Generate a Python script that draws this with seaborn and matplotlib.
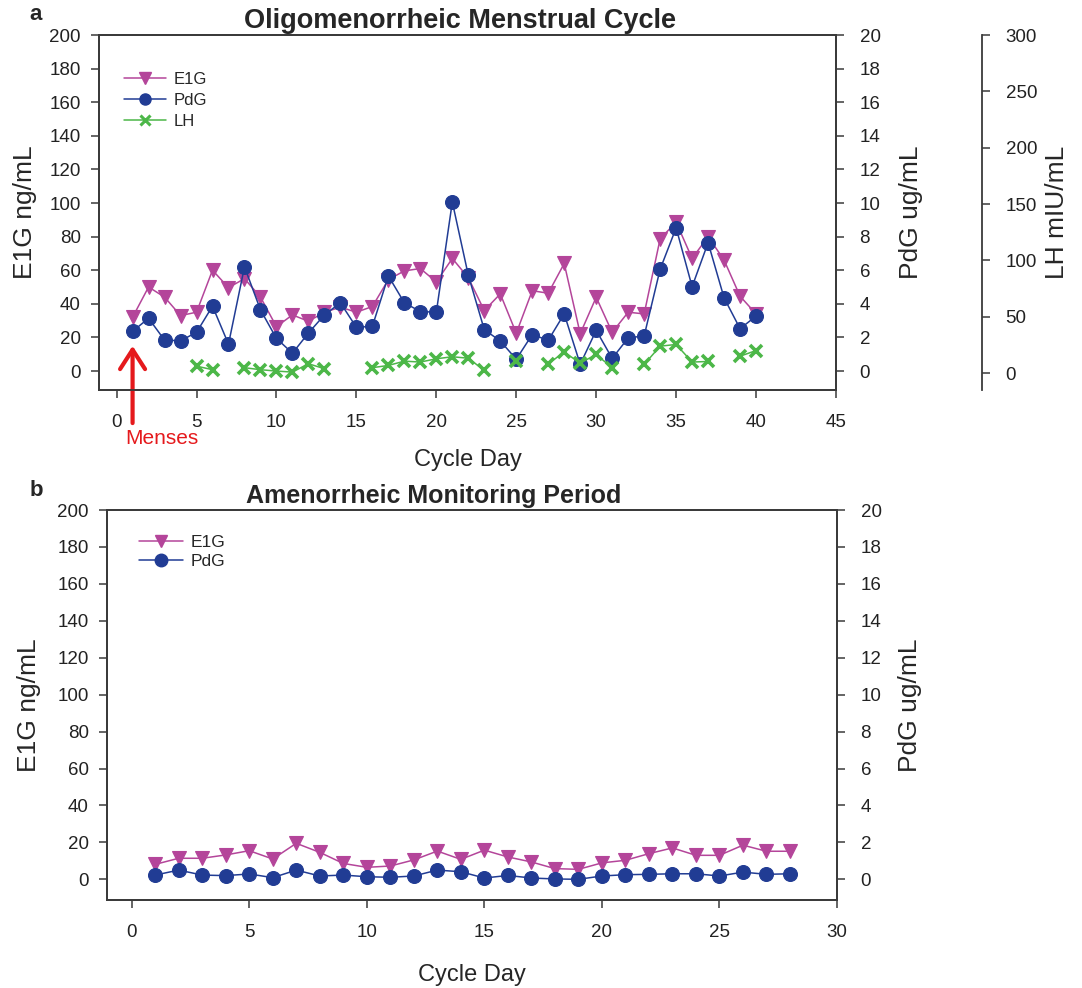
import matplotlib
matplotlib.use("Agg")
import matplotlib.pyplot as plt
from matplotlib.lines import Line2D
import numpy as np
import pandas as pd
import seaborn as sns

# --- data ---
days_a = list(range(1, 41))
e1g_a = [32, 50, 44, 33, 35, 60, 49.6, 55, 44, 26.4, 33.4, 29.6, 35, 38, 35, 38.4, 54.4, 59.6, 61, 53,
         67, 55.5, 36, 45.9, 22.5, 47.8, 46.3, 64, 22.2, 43.9, 23, 35, 34, 78.7, 88.6, 67, 80, 66, 44.5, 34]
pdg_a = [2.36, 3.14, 1.84, 1.80, 2.30, 3.86, 1.60, 6.20, 3.64, 1.94, 1.06, 2.26, 3.34, 4.06, 2.60, 2.66,
         5.66, 4.06, 3.54, 3.50, 10.06, 5.7, 2.46, 1.79, 0.70, 2.17, 1.83, 3.40, 0.40, 2.42, 0.75, 1.97,
         2.09, 6.06, 8.52, 5.02, 7.64, 4.35, 2.52, 3.27]
lh_a = [np.nan, np.nan, np.nan, np.nan, 6.2, 3.0, np.nan, 4.8, 3.0, 1.8, 0.9, 8.3, 3.9, np.nan, np.nan,
        4.8, 6.8, 10.6, 9.8, 12.7, 14.5, 13.2, 2.4, np.nan, 10.6, np.nan, 8.3, 18.6, 8.9, 16.5, 4.7,
        np.nan, 7.7, 23.9, 25.4, 9.8, 10.3, np.nan, 15.0, 20.0]

days_b = list(range(1, 29))
e1g_b = [8.1, 11.4, 11.4, 13.2, 15.5, 11.0, 19.5, 14.6, 8.6, 6.5, 7.2, 10.5, 15.3, 10.8, 15.8, 12.1,
         9.4, 5.8, 5.4, 8.9, 10.3, 13.9, 17.0, 13.0, 13.0, 18.5, 15.2, 15.2]
pdg_b = [0.23, 0.50, 0.23, 0.20, 0.29, 0.09, 0.50, 0.18, 0.23, 0.14, 0.11, 0.18, 0.50, 0.41, 0.07, 0.21,
         0.07, 0.02, 0.0, 0.18, 0.25, 0.27, 0.30, 0.30, 0.18, 0.39, 0.27, 0.30]

c_e1g = "#B4459A"
c_pdg = "#213C94"
c_lh = "#4CB748"
c_axis = "#3a3a3a"

sns.set_theme(style="ticks")
plt.rcParams["font.family"] = ["Liberation Sans", "DejaVu Sans"]
plt.rcParams["axes.edgecolor"] = c_axis
plt.rcParams["axes.linewidth"] = 1.3

df_a = pd.DataFrame({"day": days_a, "e1g": e1g_a, "pdg": pdg_a, "lh": lh_a})
# segment id so that gaps in LH are not joined
df_a["seg"] = df_a["lh"].isna().cumsum()
lh_df = df_a.dropna(subset=["lh"])
df_b = pd.DataFrame({"day": days_b, "e1g": e1g_b, "pdg": pdg_b})

fig = plt.figure(figsize=(10.82, 9.88), dpi=100)


def style_ticks(ax, side):
    ax.tick_params(axis="both", direction="out", length=6, width=1.1, color=c_axis,
                   labelsize=13.5, labelcolor="#222222")
    ax.tick_params(axis="y", pad=11 if side == "right" else 7)
    ax.tick_params(axis="x", pad=11)


def draw_series(ax, df, col, color, marker, ms):
    sns.lineplot(data=df, x="day", y=col, ax=ax, color=color, lw=1.1, marker=marker,
                 markersize=ms, markeredgecolor=color, markeredgewidth=0.8, legend=False)


# ---------------- panel a ----------------
ax = fig.add_axes([99 / 1082, 1 - 390 / 988, 737 / 1082, 355 / 988])
axp = ax.twinx()
axl = ax.twinx()

draw_series(ax, df_a, "e1g", c_e1g, "v", 10)
draw_series(axp, df_a, "pdg", c_pdg, "o", 10)
sns.lineplot(data=lh_df, x="day", y="lh", units="seg", estimator=None, ax=axl, color=c_lh, lw=1.1,
             marker="x", markersize=8.5, markeredgecolor=c_lh, markeredgewidth=2.6, legend=False)

ax.set_xlim(-1.1, 45)
ax.set_ylim(-11.3, 200)
axp.set_ylim(-1.13, 20)
axl.set_ylim(-15, 300)
ax.set_xticks(range(0, 46, 5))
ax.set_yticks(range(0, 201, 20))
axp.set_yticks(range(0, 21, 2))
axl.set_yticks(range(0, 301, 50))

for s in ["left", "top", "bottom"]:
    axl.spines[s].set_visible(False)
axl.spines["right"].set_position(("axes", 1.198))

for a, side in [(ax, "left"), (axp, "right"), (axl, "right")]:
    style_ticks(a, side)

ax.set_xlabel("Cycle Day", fontsize=17, labelpad=13)
ax.set_ylabel("E1G ng/mL", fontsize=19, labelpad=9)
axp.set_ylabel("PdG ug/mL", fontsize=19, labelpad=13)
axl.set_ylabel("LH mIU/mL", fontsize=19, labelpad=6)
ax.set_title("Oligomenorrheic Menstrual Cycle", fontsize=19.5, fontweight="bold", x=0.49, pad=5)

handles_a = [
    Line2D([], [], color=c_e1g, lw=1.1, marker="v", ms=8, mec=c_e1g),
    Line2D([], [], color=c_pdg, lw=1.1, marker="o", ms=8, mec=c_pdg),
    Line2D([], [], color=c_lh, lw=1.1, marker="x", ms=7, mew=2.2, mec=c_lh),
]
ax.legend(handles_a, ["E1G", "PdG", "LH"], loc="upper left", bbox_to_anchor=(0.025, 0.915),
          frameon=False, fontsize=12, handlelength=2.5, handletextpad=0.45, labelspacing=0.35,
          borderaxespad=0)

ax.annotate("", xy=(1, 15), xytext=(1, -31), annotation_clip=False,
            arrowprops=dict(arrowstyle="->,head_length=0.7,head_width=0.45", color="#E5191C",
                            lw=3, mutation_scale=20, shrinkA=0, shrinkB=0))
ax.text(2.84, -40, "Menses", color="#E5191C", fontsize=15, ha="center", va="center", clip_on=False)

# ---------------- panel b ----------------
bx = fig.add_axes([107 / 1082, 1 - 900 / 988, 730 / 1082, 390 / 988])
bxp = bx.twinx()

draw_series(bx, df_b, "e1g", c_e1g, "v", 10)
draw_series(bxp, df_b, "pdg", c_pdg, "o", 10)

bx.set_xlim(-1.05, 30)
bx.set_ylim(-11.2, 200)
bxp.set_ylim(-1.12, 20)
bx.set_xticks(range(0, 31, 5))
bx.set_yticks(range(0, 201, 20))
bxp.set_yticks(range(0, 21, 2))
for a, side in [(bx, "left"), (bxp, "right")]:
    style_ticks(a, side)

bx.set_xlabel("Cycle Day", fontsize=17, labelpad=17)
bx.set_ylabel("E1G ng/mL", fontsize=19, labelpad=12)
bxp.set_ylabel("PdG ug/mL", fontsize=19, labelpad=12)
bx.set_title("Amenorrheic Monitoring Period", fontsize=18, fontweight="bold", x=0.447, pad=5)

handles_b = [
    Line2D([], [], color=c_e1g, lw=1.1, marker="v", ms=9, mec=c_e1g),
    Line2D([], [], color=c_pdg, lw=1.1, marker="o", ms=9, mec=c_pdg),
]
bx.legend(handles_b, ["E1G", "PdG"], loc="upper left", bbox_to_anchor=(0.035, 0.955),
          frameon=False, fontsize=12.5, handlelength=2.5, handletextpad=0.45, labelspacing=0.25,
          borderaxespad=0)

fig.text(36 / 1082, 1 - 15 / 988, "a", fontsize=16, fontweight="bold", ha="center", va="center")
fig.text(36 / 1082, 1 - 490 / 988, "b", fontsize=16, fontweight="bold", ha="center", va="center")

fig.savefig("out.png", dpi=100)
